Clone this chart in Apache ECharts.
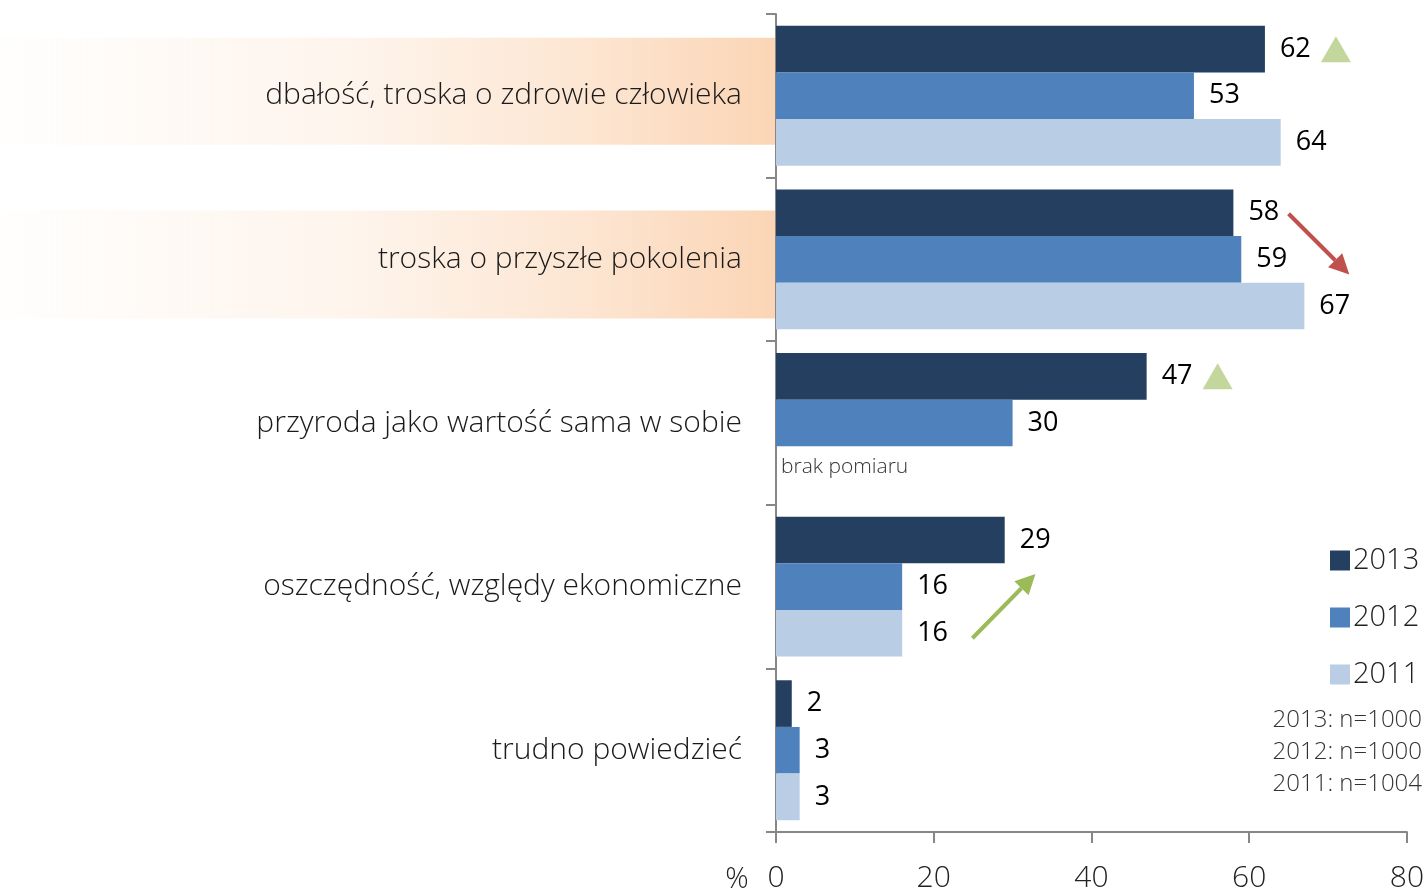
<!DOCTYPE html>
<html>
<head>
<meta charset="utf-8">
<script src="https://cdn.jsdelivr.net/npm/echarts@6/dist/echarts.min.js"></script>
<style>
  html, body { margin: 0; padding: 0; background: #fff; }
  #main { width: 1427px; height: 893px; }
</style>
</head>
<body>
<div id="main"></div>
<script>
const categories = [
  'dbałość, troska o zdrowie człowieka',
  'troska o przyszłe pokolenia',
  'przyroda jako wartość sama w sobie',
  'oszczędność, względy ekonomiczne',
  'trudno powiedzieć'
];
const years = ['2013', '2012', '2011'];
const values2013 = [62, 58, 47, 29, 2];
const values2012 = [53, 59, 30, 16, 3];
const values2011 = [64, 67, null, 16, 3];
const xTicks = [0, 20, 40, 60, 80];
const sampleNotes = ['2013: n=1000', '2012: n=1000', '2011: n=1004'];
const highlighted = [0, 1];      // kategorie z pomarańczowym tłem
const upMarks = [0, 2];          // zielone trójkąty przy 2013
const noData = [2];              // brak pomiaru 2011

const colors = ['#243F60', '#4F81BD', '#B9CDE5'];
const font = '"Open Sans", "Noto Sans", sans-serif';
const axisColor = '#878787';
const gapPct = 0.145;

const chart = echarts.init(document.getElementById('main'));

const seriesData = [values2013, values2012, values2011];

const option = {
  animation: false,
  textStyle: { fontFamily: font },
  grid: { left: 776, right: 17, top: 14, bottom: 60, containLabel: false },
  legend: {
    orient: 'vertical',
    left: 1325,
    top: 541,
    icon: 'rect',
    itemWidth: 20,
    itemHeight: 20,
    itemGap: 28,
    textStyle: { fontSize: 29, color: '#222', fontWeight: 300, fontFamily: font, padding: [0, 0, 0, -2] },
    data: years
  },
  xAxis: {
    type: 'value',
    min: xTicks[0],
    max: xTicks[xTicks.length - 1],
    interval: 20,
    splitLine: { show: false },
    axisLine: { show: true, lineStyle: { color: axisColor, width: 2 } },
    axisTick: { show: true, length: 11, lineStyle: { color: axisColor, width: 2 } },
    axisLabel: { fontSize: 30, color: '#222', fontWeight: 300, margin: 31, fontFamily: font }
  },
  yAxis: {
    type: 'category',
    inverse: true,
    data: categories,
    axisLine: { show: true, lineStyle: { color: axisColor, width: 2 } },
    axisTick: { show: true, length: 10, lineStyle: { color: axisColor, width: 2 } },
    axisLabel: { fontSize: 30, color: '#1a1a1a', fontWeight: 300, margin: 34, fontFamily: font }
  },
  series: years.map((y, k) => ({
    name: y,
    type: 'bar',
    barGap: 0,
    barCategoryGap: (gapPct * 100) + '%',
    itemStyle: { color: colors[k] },
    label: {
      show: true,
      position: 'right',
      distance: 15,
      fontSize: 27,
      color: '#000',
      fontFamily: font
    },
    data: seriesData[k]
  }))
};

chart.setOption(option);

// adnotacje liczone ze skal wykresu
function px(v, i) { return chart.convertToPixel({ gridIndex: 0 }, [v, i]); }
const band = px(0, 1)[1] - px(0, 0)[1];
const barH = band * (1 - gapPct) / 3;
function barY(i, s) { return px(0, i)[1] + (s - 1) * barH; }
const x0 = px(0, 0)[0];

function arrow(x1, y1, x2, y2, color) {
  const ang = Math.atan2(y2 - y1, x2 - x1);
  const hl = 20, hw = 10;
  const bx = x2 - hl * Math.cos(ang), by = y2 - hl * Math.sin(ang);
  const nx = -Math.sin(ang), ny = Math.cos(ang);
  return [
    { type: 'line', shape: { x1: x1, y1: y1, x2: bx, y2: by }, style: { stroke: color, lineWidth: 4 } },
    { type: 'polygon', shape: { points: [[x2, y2], [bx + nx * hw, by + ny * hw], [bx - nx * hw, by - ny * hw]] }, style: { fill: color } }
  ];
}

const graphics = [];
const hlOffsets = [[-58, 49], [-49, 59]];
highlighted.forEach((i, n) => {
  const c = px(0, i)[1];
  graphics.push({
    type: 'rect', z: -1, silent: true,
    shape: { x: 0, y: c + hlOffsets[n][0], width: x0 - 1, height: hlOffsets[n][1] - hlOffsets[n][0] },
    style: {
      fill: new echarts.graphic.LinearGradient(0, 0, 1, 0, [
        { offset: 0, color: 'rgba(251,213,181,0.02)' },
        { offset: 0.45, color: 'rgba(251,213,181,0.25)' },
        { offset: 0.75, color: 'rgba(251,213,181,0.6)' },
        { offset: 1, color: 'rgba(251,213,181,1)' }
      ])
    }
  });
});

upMarks.forEach(i => {
  const cx = px(values2013[i], i)[0] + 71;
  const cy = barY(i, 0);
  graphics.push({
    type: 'polygon',
    shape: { points: [[cx, cy - 13], [cx + 15, cy + 13], [cx - 15, cy + 13]] },
    style: { fill: '#C3D69B' }
  });
});

noData.forEach(i => {
  graphics.push({
    type: 'text',
    style: {
      text: 'brak pomiaru', x: x0 + 5, y: barY(i, 2) - 3,
      fontSize: 21, fill: '#333', fontWeight: 300, fontFamily: font, verticalAlign: 'middle'
    }
  });
});

// strzałki trendu
graphics.push.apply(graphics, arrow(px(65, 1)[0], barY(1, 0) + 1, px(72.7, 1)[0], barY(1, 1) + 15, '#C0504D'));
graphics.push.apply(graphics, arrow(px(24.9, 3)[0], barY(3, 2) + 5, px(32.9, 3)[0], barY(3, 0) + 34, '#9BBB59'));

sampleNotes.forEach((t, k) => {
  graphics.push({
    type: 'text',
    style: {
      text: t, x: 1422, y: 720 + k * 32, align: 'right', verticalAlign: 'middle',
      fontSize: 24, fill: '#333', fontWeight: 300, fontFamily: font
    }
  });
});

graphics.push({
  type: 'text',
  style: {
    text: '%', x: x0 - 39, y: 880, align: 'center', verticalAlign: 'middle',
    fontSize: 29, fill: '#222', fontWeight: 300, fontFamily: font
  }
});

chart.setOption({ graphic: graphics });
</script>
</body>
</html>
